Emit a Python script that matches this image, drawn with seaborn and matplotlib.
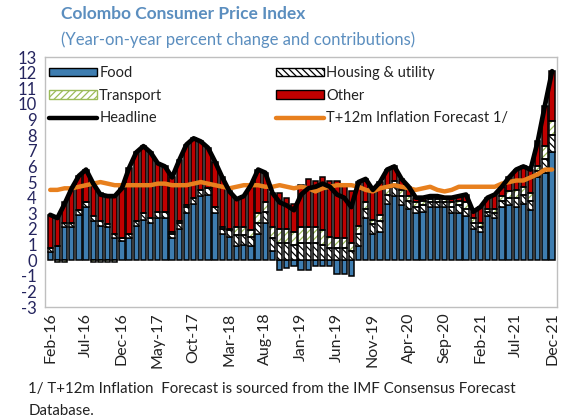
import numpy as np
import pandas as pd
import matplotlib
matplotlib.use("Agg")
import matplotlib.pyplot as plt
import seaborn as sns
from matplotlib.patches import Patch
from matplotlib.lines import Line2D

# Monthly data, Feb-16 .. Dec-21 (percent, y/y contributions)
months = pd.date_range("2016-02-01", "2021-12-01", freq="MS")

headline = [2.9, 2.7, 3.6, 4.6, 5.4, 5.8, 4.9, 4.2, 4.1, 4.1, 4.6, 5.9,
            6.9, 7.3, 6.9, 6.2, 6.0, 5.3, 6.4, 7.4, 7.8, 7.6, 7.2, 6.3,
            5.3, 4.4, 3.9, 4.1, 4.8, 5.8, 5.6, 4.3, 3.7, 3.5, 3.2, 4.2,
            4.6, 4.7, 4.9, 4.7, 4.2, 4.0, 3.4, 5.0, 5.2, 4.5, 5.0, 5.8,
            6.0, 5.2, 4.7, 4.0, 4.0, 4.1, 4.1, 4.0, 4.0, 4.1, 4.2, 3.1,
            3.4, 4.0, 4.2, 4.7, 5.3, 5.8, 6.0, 5.8, 7.6, 9.9, 12.1]

food = [0.5, 0.9, 2.1, 2.1, 2.9, 3.4, 2.5, 2.2, 2.1, 1.4, 1.2, 1.4,
        2.2, 2.6, 2.4, 2.7, 2.7, 1.4, 2.0, 3.0, 3.6, 4.1, 4.2, 3.0,
        1.7, 1.5, 0.9, 1.0, 0.9, 1.7, 2.4, 0.6, -0.6, -0.5, -0.4, -0.6,
        -0.6, -0.4, -0.4, -0.4, -0.9, -0.9, -1.0, 0.9, 2.7, 1.7, 1.8, 3.6,
        4.1, 3.5, 3.3, 3.0, 3.1, 3.4, 3.4, 3.4, 3.0, 3.0, 2.8, 2.0,
        1.8, 2.8, 2.7, 3.4, 3.5, 3.4, 3.6, 3.2, 5.3, 5.6, 6.9]

housing = [0.3, 0.0, 0.3, 0.3, 0.3, 0.3, 0.3, 0.3, 0.2, 0.3, 0.2, 0.3,
           0.3, 0.4, 0.3, 0.4, 0.4, 0.3, 0.4, 0.4, 0.4, 0.4, 0.4, 0.4,
           0.3, 0.4, 0.7, 0.6, 0.6, 0.7, 0.7, 0.8, 1.1, 1.1, 1.0, 1.1,
           1.1, 1.1, 1.0, 0.8, 0.8, 0.8, 0.6, 0.8, 0.6, 0.6, 0.7, 0.6,
           0.6, 0.6, 0.5, 0.4, 0.4, 0.3, 0.3, 0.3, 0.4, 0.5, 0.5, 0.4,
           0.3, 0.3, 0.3, 0.4, 0.5, 0.6, 0.6, 0.6, 0.4, 0.9, 1.1]

transport = [0.0, -0.1, -0.1, 0.0, 0.0, 0.0, -0.1, -0.1, -0.1, -0.1, 0.0, 0.0,
             0.0, 0.0, 0.0, 0.0, 0.0, 0.1, 0.1, 0.1, 0.0, 0.0, 0.0, 0.0,
             0.1, 0.1, 0.5, 0.5, 0.4, 0.6, 0.6, 0.7, 0.9, 0.9, 0.8, 1.0,
             1.0, 1.0, 0.9, 0.7, 0.6, 0.6, 0.5, 0.5, 0.4, 0.3, 0.4, 0.4,
             0.4, 0.4, 0.3, 0.3, 0.3, 0.2, 0.2, 0.2, 0.3, 0.3, 0.4, 0.3,
             0.3, 0.2, 0.3, 0.3, 0.4, 0.5, 0.5, 0.5, 0.3, 0.8, 0.9]

other = [2.1, 1.9, 1.3, 2.2, 2.2, 2.1, 2.2, 1.8, 1.9, 2.5, 3.2, 4.2,
         4.4, 4.3, 4.2, 3.1, 2.9, 3.5, 3.9, 3.9, 3.8, 3.1, 2.6, 2.9,
         3.2, 2.4, 1.8, 2.0, 2.9, 2.8, 1.9, 2.2, 2.3, 2.0, 1.8, 2.7,
         3.1, 3.0, 3.4, 3.6, 3.7, 3.5, 3.3, 2.8, 1.5, 1.9, 2.1, 1.2,
         0.9, 0.7, 0.6, 0.3, 0.2, 0.2, 0.2, 0.1, 0.3, 0.3, 0.5, 0.4,
         1.0, 0.7, 0.9, 0.6, 0.9, 1.3, 1.3, 1.5, 1.6, 2.6, 3.2]

forecast = [4.5, 4.5, 4.6, 4.6, 4.7, 4.8, 4.9, 5.0, 4.9, 4.8, 4.8, 4.8,
            4.8, 4.8, 4.8, 4.9, 4.9, 4.8, 4.8, 4.8, 4.9, 5.0, 4.9, 4.8,
            4.7, 4.6, 4.7, 4.8, 4.8, 4.8, 4.7, 4.7, 4.8, 4.7, 4.6, 4.7,
            4.6, 4.4, 4.6, 4.7, 4.8, 4.8, 4.8, 4.7, 4.5, 4.4, 4.6, 4.7,
            4.8, 4.7, 4.6, 4.5, 4.6, 4.7, 4.5, 4.4, 4.5, 4.7, 4.7, 4.7,
            4.7, 4.7, 4.7, 4.9, 5.0, 5.1, 5.1, 5.3, 5.5, 5.8, 5.8]

tick_every = 5

BLUE = "#3E7DB0"
RED = "#C00000"
GREEN = "#9BBB59"
ORANGE = "#E8801E"
TITLE_C = "#5B8EBF"


def main():
    sns.set_theme(style="white")
    plt.rcParams["font.family"] = ["Lato", "DejaVu Sans"]
    plt.rcParams["hatch.linewidth"] = 0.9

    df = pd.DataFrame({"x": np.arange(len(months)), "headline": headline,
                       "forecast": forecast})
    comps = [("Food", food, dict(color=BLUE)),
             ("Housing & utility", housing, dict(color="white", hatch="\\\\\\\\\\", edgecolor="black")),
             ("Transport", transport, dict(color="white", hatch="/////", edgecolor=GREEN)),
             ("Other", other, dict(color=RED))]

    fig = plt.figure(figsize=(5.65, 4.2), dpi=100)
    ax = fig.add_axes([0.08, 0.269, 0.906, 0.595])

    x = df["x"].values
    pos_bot = np.zeros(len(x))
    neg_bot = np.zeros(len(x))
    for name, vals, style in comps:
        v = np.array(vals, dtype=float)
        bot = np.where(v >= 0, pos_bot, neg_bot)
        if "hatch" in style:
            ax.bar(x, v, bottom=bot, width=0.74, facecolor="white",
                   edgecolor=style["edgecolor"], hatch=style["hatch"], linewidth=0, zorder=2)
            ax.bar(x, v, bottom=bot, width=0.74, fill=False,
                   edgecolor="black", linewidth=1.1, zorder=3)
        else:
            ax.bar(x, v, bottom=bot, width=0.74, color=style["color"],
                   edgecolor="black", linewidth=1.1, zorder=2)
        pos_bot = np.where(v >= 0, pos_bot + v, pos_bot)
        neg_bot = np.where(v < 0, neg_bot + v, neg_bot)

    sns.lineplot(data=df, x="x", y="forecast", ax=ax, color=ORANGE,
                 linewidth=3.2, zorder=4, legend=False)
    sns.lineplot(data=df, x="x", y="headline", ax=ax, color="black",
                 linewidth=3.4, zorder=5, legend=False)

    ax.set_xlim(-0.7, len(x) - 0.3)
    ax.set_ylim(-3, 13)
    ax.set_yticks(range(-3, 14))
    ax.set_yticklabels([str(t) for t in range(-3, 14)], fontsize=12,
                       color="#25255F")
    ticks = x[::tick_every]
    ax.set_xticks(ticks)
    ax.set_xticklabels([m.strftime("%b-%y") for m in months[::tick_every]],
                       rotation=90, fontsize=11.5, color="#222222")
    ax.tick_params(axis="both", length=0, pad=4)
    ax.tick_params(axis="y", pad=6)
    ax.set_xlabel("")
    ax.set_ylabel("")
    for sp in ax.spines.values():
        sp.set_color("#BFBFBF")
        sp.set_linewidth(1.0)

    handles = [
        Patch(facecolor=BLUE, edgecolor="black", label="Food"),
        Patch(facecolor="white", edgecolor=GREEN, hatch="/////", label="Transport"),
        Line2D([0], [0], color="black", lw=3.2, label="Headline"),
        Patch(facecolor="white", edgecolor="black", hatch="\\\\\\\\\\", label="Housing & utility"),
        Patch(facecolor=RED, edgecolor="black", label="Other"),
        Line2D([0], [0], color=ORANGE, lw=3.2, label="T+12m Inflation Forecast 1/"),
    ]
    ax.legend(handles=handles, ncol=2, loc="upper left", bbox_to_anchor=(-0.01, 1.0),
              frameon=False, fontsize=10.5, handlelength=3.3, handleheight=0.5,
              handletextpad=0.15, columnspacing=7.8, labelspacing=0.6,
              borderaxespad=0.2, labelcolor="#222222")

    fig.text(0.108, 0.955, "Colombo Consumer Price Index", fontsize=12.5,
             fontweight="bold", color=TITLE_C)
    fig.text(0.108, 0.893, "(Year-on-year percent change and contributions)",
             fontsize=12, color=TITLE_C)
    fig.text(0.05, 0.065, "1/ T+12m Inflation  Forecast is sourced from the IMF Consensus Forecast",
             fontsize=10.8, color="#222222")
    fig.text(0.05, 0.013, "Database.", fontsize=10.8, color="#222222")

    fig.savefig("out.png", dpi=100)
    plt.close(fig)


if __name__ == "__main__":
    main()
